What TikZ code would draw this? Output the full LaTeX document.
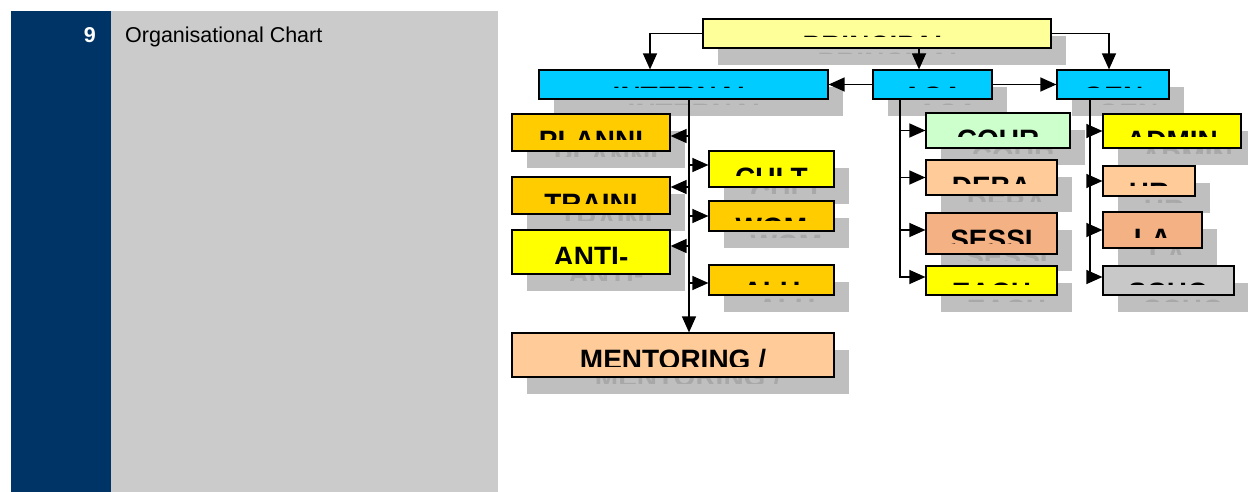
\documentclass[tikz,border=0pt]{standalone}
\usepackage{fontspec}
\setmainfont{Liberation Sans}
\usetikzlibrary{arrows.meta}

\definecolor{navyband}{HTML}{003366}
\definecolor{panelgray}{HTML}{CBCBCB}
\definecolor{shadowfill}{HTML}{BFBFBF}
\definecolor{shadowtext}{HTML}{A8A8A8}
\definecolor{paleyellow}{HTML}{FFFF99}
\definecolor{skyblue}{HTML}{00CCFF}
\definecolor{gold}{HTML}{FFCC00}
\definecolor{brightyellow}{HTML}{FFFF00}
\definecolor{peach}{HTML}{FFCC99}
\definecolor{salmon}{HTML}{F4B183}
\definecolor{mint}{HTML}{CCFFCC}
\definecolor{silver}{HTML}{C8C8C8}

\tikzset{
  unit/.style={draw=black,line width=1.2pt,inner sep=0pt},
  unitlabel/.style={anchor=base,inner sep=0pt,font=\fontsize{28}{30}\selectfont\bfseries},
  arr/.style={line width=1.3pt,-{Triangle[length=16pt,width=14pt]}}
}

% name, left, top, right, bottom, fill, label
\newcommand{\orgunit}[7]{%
  \fill[shadowfill] (#2+15,#3+17) rectangle (#4+15,#5+17);
  \begin{scope}
    \clip (#2+15,#3+17) rectangle (#4+15,#5+6);
    \node[unitlabel,text=shadowtext] at ({(#2+#4)/2+15},#3+53.5) {#7};
  \end{scope}
  \node[unit,fill=#6,minimum width={(#4-#2)*1pt},minimum height={(#5-#3)*1pt}] (#1) at ({(#2+#4)/2},{(#3+#5)/2}) {};
  \begin{scope}
    \clip (#2,#3) rectangle (#4,#5-11);
    \node[unitlabel] (#1-txt) at ({(#2+#4)/2},#3+36.5) {#7};
  \end{scope}
}

\begin{document}
\begin{tikzpicture}[x=1pt,y=-1pt]
\useasboundingbox (0,0) rectangle (1248,492);
\fill[navyband] (11,11) rectangle (111,492);
\fill[panelgray] (111,11) rectangle (498,492);
\node[anchor=base east,inner sep=0pt,text=white,font=\fontsize{21.5}{24}\selectfont\bfseries] (secno) at (96,43) {9};
\node[anchor=base west,inner sep=0pt,font=\fontsize{21.5}{24}\selectfont] (sectitle) at (125,43) {Organisational Chart};

\orgunit{principal}{703}{19}{1051}{48}{paleyellow}{PRINCIPAL}
\orgunit{internal}{539}{70}{828}{99}{skyblue}{INTERNAL}
\orgunit{aca}{873}{70}{992}{99}{skyblue}{ACA}
\orgunit{gen}{1057}{70}{1169}{99}{skyblue}{GEN}
\orgunit{planni}{512}{114}{670}{151}{gold}{PLANNI}
\orgunit{cour}{926}{113}{1070}{148}{mint}{COUR}
\orgunit{admin}{1103}{114}{1241}{148}{brightyellow}{ADMIN}
\orgunit{cult}{709}{151}{834}{187}{brightyellow}{CULT}
\orgunit{deba}{926}{160}{1057}{195}{peach}{DEBA}
\orgunit{hr}{1103}{166}{1195}{196}{peach}{HR}
\orgunit{traini}{512}{177}{670}{214}{gold}{TRAINI}
\orgunit{wom}{709}{201}{834}{231}{gold}{WOM}
\orgunit{la}{1103}{212}{1202}{248}{salmon}{LA}
\orgunit{sessi}{926}{213}{1057}{254}{salmon}{SESSI}
\orgunit{anti}{512}{230}{670}{274}{brightyellow}{ANTI-}
\orgunit{alu}{709}{265}{834}{295}{gold}{ALU}
\orgunit{each}{926}{266}{1057}{295}{brightyellow}{EACH}
\orgunit{scho}{1103}{266}{1234}{295}{silver}{SCHO}
\orgunit{mentoring}{512}{333}{834}{377}{peach}{MENTORING /}

% top level
\draw[arr] (principal.west) -| ([xshift=-33.5pt]internal.north);
\draw[arr] ([xshift=-13.5pt]aca.north |- principal.south) -- ([xshift=-13.5pt]aca.north);
\draw[arr] (principal.east) -| ([xshift=-4pt]gen.north);
\draw[arr] (aca.west) -- (internal.east);
\draw[arr] (aca.east) -- (gen.west);

% internal branch
\coordinate (itrunk) at ([xshift=5.5pt]internal.south);
\draw[arr] (itrunk) -- (itrunk |- mentoring.north);
\draw[arr] ([yshift=-3.5pt]planni.east -| itrunk) -- ([yshift=-3.5pt]planni.east);
\draw[arr] ([yshift=8.5pt]traini.east -| itrunk) -- ([yshift=8.5pt]traini.east);
\draw[arr] ([yshift=6pt]anti.east -| itrunk) -- ([yshift=6pt]anti.east);
\draw[arr] ([yshift=4pt]cult.west -| itrunk) -- ([yshift=4pt]cult.west);
\draw[arr] (wom.west -| itrunk) -- (wom.west);
\draw[arr] ([yshift=-3pt]alu.west -| itrunk) -- ([yshift=-3pt]alu.west);

% aca branch
\coordinate (atrunk) at ([xshift=-32.5pt]aca.south);
\draw[arr] (atrunk) |- ([yshift=3.5pt]each.west);
\draw[arr] (cour.west -| atrunk) -- (cour.west);
\draw[arr] (deba.west -| atrunk) -- (deba.west);
\draw[arr] ([yshift=3.5pt]sessi.west -| atrunk) -- ([yshift=3.5pt]sessi.west);

% gen branch
\coordinate (gtrunk) at ([xshift=-23pt]gen.south);
\draw[arr] (gtrunk) |- ([yshift=3.5pt]scho.west);
\draw[arr] (admin.west -| gtrunk) -- (admin.west);
\draw[arr] (hr.west -| gtrunk) -- (hr.west);
\draw[arr] (la.west -| gtrunk) -- (la.west);
\end{tikzpicture}
\end{document}
